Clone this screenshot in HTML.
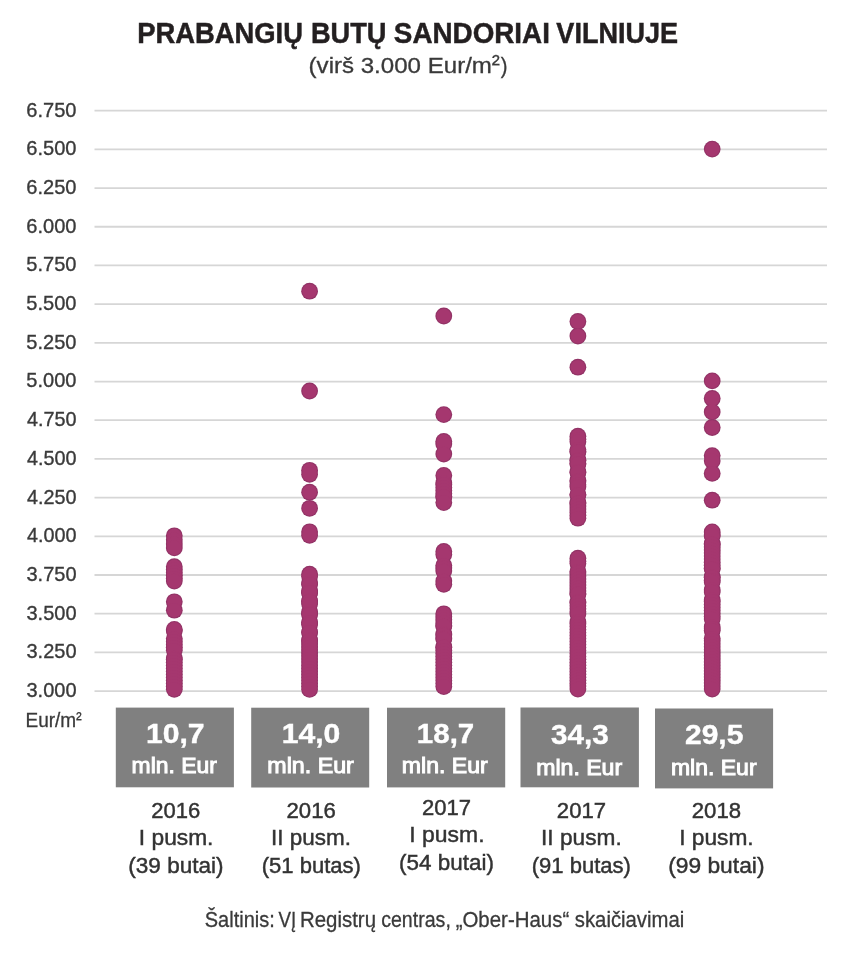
<!DOCTYPE html>
<html lang="lt">
<head>
<meta charset="utf-8">
<title>Prabangių butų sandoriai Vilniuje</title>
<style>
html,body{margin:0;padding:0;background:#fff;}
body{width:847px;height:960px;overflow:hidden;position:relative;}
svg{display:block;position:absolute;left:0;top:0;}
text{font-family:"Liberation Sans",Arial,sans-serif;}
</style>
</head>
<body>
<svg width="847" height="960" viewBox="0 0 847 960">
<rect x="0" y="0" width="847" height="960" fill="#fff"/>
<g stroke="#d6d6d6" stroke-width="1.8">
<line x1="94.5" y1="110.70" x2="827" y2="110.70"/>
<line x1="94.5" y1="149.39" x2="827" y2="149.39"/>
<line x1="94.5" y1="188.08" x2="827" y2="188.08"/>
<line x1="94.5" y1="226.77" x2="827" y2="226.77"/>
<line x1="94.5" y1="265.46" x2="827" y2="265.46"/>
<line x1="94.5" y1="304.15" x2="827" y2="304.15"/>
<line x1="94.5" y1="342.84" x2="827" y2="342.84"/>
<line x1="94.5" y1="381.53" x2="827" y2="381.53"/>
<line x1="94.5" y1="420.22" x2="827" y2="420.22"/>
<line x1="94.5" y1="458.91" x2="827" y2="458.91"/>
<line x1="94.5" y1="497.60" x2="827" y2="497.60"/>
<line x1="94.5" y1="536.29" x2="827" y2="536.29"/>
<line x1="94.5" y1="574.98" x2="827" y2="574.98"/>
<line x1="94.5" y1="613.67" x2="827" y2="613.67"/>
<line x1="94.5" y1="652.36" x2="827" y2="652.36"/>
<line x1="94.5" y1="691.05" x2="827" y2="691.05"/>
</g>
<g fill="#923366">
<circle cx="174.3" cy="535.80" r="8.40"/>
<circle cx="174.3" cy="539.80" r="8.40"/>
<circle cx="174.3" cy="543.90" r="8.40"/>
<circle cx="174.3" cy="547.90" r="8.40"/>
<circle cx="174.3" cy="566.70" r="8.40"/>
<circle cx="174.3" cy="569.58" r="8.40"/>
<circle cx="174.3" cy="572.46" r="8.40"/>
<circle cx="174.3" cy="575.34" r="8.40"/>
<circle cx="174.3" cy="578.22" r="8.40"/>
<circle cx="174.3" cy="581.10" r="8.40"/>
<circle cx="174.3" cy="601.80" r="8.40"/>
<circle cx="174.3" cy="610.20" r="8.40"/>
<circle cx="174.3" cy="629.40" r="8.40"/>
<circle cx="174.3" cy="630.80" r="8.40"/>
<circle cx="174.3" cy="638.60" r="8.40"/>
<circle cx="174.3" cy="641.38" r="8.40"/>
<circle cx="174.3" cy="644.38" r="8.40"/>
<circle cx="174.3" cy="647.37" r="8.40"/>
<circle cx="174.3" cy="650.30" r="8.40"/>
<circle cx="174.3" cy="658.10" r="8.40"/>
<circle cx="174.3" cy="659.35" r="8.40"/>
<circle cx="174.3" cy="662.35" r="8.40"/>
<circle cx="174.3" cy="665.34" r="8.40"/>
<circle cx="174.3" cy="668.34" r="8.40"/>
<circle cx="174.3" cy="671.33" r="8.40"/>
<circle cx="174.3" cy="674.33" r="8.40"/>
<circle cx="174.3" cy="677.32" r="8.40"/>
<circle cx="174.3" cy="680.32" r="8.40"/>
<circle cx="174.3" cy="683.31" r="8.40"/>
<circle cx="174.3" cy="686.31" r="8.40"/>
<circle cx="174.3" cy="689.30" r="8.40"/>
<circle cx="309.6" cy="291.20" r="8.40"/>
<circle cx="309.6" cy="391.00" r="8.40"/>
<circle cx="309.6" cy="470.30" r="8.40"/>
<circle cx="309.6" cy="474.30" r="8.40"/>
<circle cx="309.6" cy="492.20" r="8.40"/>
<circle cx="309.6" cy="508.30" r="8.40"/>
<circle cx="309.6" cy="531.80" r="8.40"/>
<circle cx="309.6" cy="535.30" r="8.40"/>
<circle cx="309.6" cy="574.20" r="8.40"/>
<circle cx="309.6" cy="576.50" r="8.40"/>
<circle cx="309.6" cy="583.10" r="8.40"/>
<circle cx="309.6" cy="584.30" r="8.40"/>
<circle cx="309.6" cy="590.90" r="8.40"/>
<circle cx="309.6" cy="592.39" r="8.40"/>
<circle cx="309.6" cy="593.10" r="8.40"/>
<circle cx="309.6" cy="600.90" r="8.40"/>
<circle cx="309.6" cy="601.48" r="8.40"/>
<circle cx="309.6" cy="604.10" r="8.40"/>
<circle cx="309.6" cy="611.90" r="8.40"/>
<circle cx="309.6" cy="613.61" r="8.40"/>
<circle cx="309.6" cy="614.40" r="8.40"/>
<circle cx="309.6" cy="622.20" r="8.40"/>
<circle cx="309.6" cy="622.71" r="8.40"/>
<circle cx="309.6" cy="624.60" r="8.40"/>
<circle cx="309.6" cy="632.10" r="8.40"/>
<circle cx="309.6" cy="632.40" r="8.40"/>
<circle cx="309.6" cy="639.90" r="8.40"/>
<circle cx="309.6" cy="640.89" r="8.40"/>
<circle cx="309.6" cy="643.93" r="8.40"/>
<circle cx="309.6" cy="646.96" r="8.40"/>
<circle cx="309.6" cy="649.99" r="8.40"/>
<circle cx="309.6" cy="653.02" r="8.40"/>
<circle cx="309.6" cy="656.05" r="8.40"/>
<circle cx="309.6" cy="659.08" r="8.40"/>
<circle cx="309.6" cy="662.12" r="8.40"/>
<circle cx="309.6" cy="665.15" r="8.40"/>
<circle cx="309.6" cy="668.18" r="8.40"/>
<circle cx="309.6" cy="671.21" r="8.40"/>
<circle cx="309.6" cy="674.24" r="8.40"/>
<circle cx="309.6" cy="677.27" r="8.40"/>
<circle cx="309.6" cy="680.31" r="8.40"/>
<circle cx="309.6" cy="683.34" r="8.40"/>
<circle cx="309.6" cy="686.37" r="8.40"/>
<circle cx="309.6" cy="689.40" r="8.40"/>
<circle cx="443.8" cy="316.00" r="8.40"/>
<circle cx="443.8" cy="414.60" r="8.40"/>
<circle cx="443.8" cy="441.50" r="8.40"/>
<circle cx="443.8" cy="444.00" r="8.40"/>
<circle cx="443.8" cy="454.00" r="8.40"/>
<circle cx="443.8" cy="475.40" r="8.40"/>
<circle cx="443.8" cy="482.90" r="8.40"/>
<circle cx="443.8" cy="484.47" r="8.40"/>
<circle cx="443.8" cy="487.49" r="8.40"/>
<circle cx="443.8" cy="490.51" r="8.40"/>
<circle cx="443.8" cy="493.53" r="8.40"/>
<circle cx="443.8" cy="496.56" r="8.40"/>
<circle cx="443.8" cy="496.90" r="8.40"/>
<circle cx="443.8" cy="502.60" r="8.40"/>
<circle cx="443.8" cy="551.50" r="8.40"/>
<circle cx="443.8" cy="554.50" r="8.40"/>
<circle cx="443.8" cy="565.50" r="8.40"/>
<circle cx="443.8" cy="568.00" r="8.40"/>
<circle cx="443.8" cy="571.00" r="8.40"/>
<circle cx="443.8" cy="581.00" r="8.40"/>
<circle cx="443.8" cy="584.30" r="8.40"/>
<circle cx="443.8" cy="613.80" r="8.40"/>
<circle cx="443.8" cy="616.83" r="8.40"/>
<circle cx="443.8" cy="619.87" r="8.40"/>
<circle cx="443.8" cy="622.90" r="8.40"/>
<circle cx="443.8" cy="625.93" r="8.40"/>
<circle cx="443.8" cy="626.10" r="8.40"/>
<circle cx="443.8" cy="633.90" r="8.40"/>
<circle cx="443.8" cy="635.03" r="8.40"/>
<circle cx="443.8" cy="638.07" r="8.40"/>
<circle cx="443.8" cy="639.10" r="8.40"/>
<circle cx="443.8" cy="646.90" r="8.40"/>
<circle cx="443.8" cy="647.17" r="8.40"/>
<circle cx="443.8" cy="650.20" r="8.40"/>
<circle cx="443.8" cy="653.23" r="8.40"/>
<circle cx="443.8" cy="656.27" r="8.40"/>
<circle cx="443.8" cy="659.30" r="8.40"/>
<circle cx="443.8" cy="662.33" r="8.40"/>
<circle cx="443.8" cy="665.37" r="8.40"/>
<circle cx="443.8" cy="668.40" r="8.40"/>
<circle cx="443.8" cy="671.43" r="8.40"/>
<circle cx="443.8" cy="674.47" r="8.40"/>
<circle cx="443.8" cy="677.50" r="8.40"/>
<circle cx="443.8" cy="680.53" r="8.40"/>
<circle cx="443.8" cy="683.57" r="8.40"/>
<circle cx="443.8" cy="686.60" r="8.40"/>
<circle cx="577.9" cy="321.50" r="8.40"/>
<circle cx="577.9" cy="336.00" r="8.40"/>
<circle cx="577.9" cy="367.20" r="8.40"/>
<circle cx="577.9" cy="436.20" r="8.40"/>
<circle cx="577.9" cy="439.24" r="8.40"/>
<circle cx="577.9" cy="441.80" r="8.40"/>
<circle cx="577.9" cy="449.60" r="8.40"/>
<circle cx="577.9" cy="451.39" r="8.40"/>
<circle cx="577.9" cy="452.10" r="8.40"/>
<circle cx="577.9" cy="459.90" r="8.40"/>
<circle cx="577.9" cy="460.50" r="8.40"/>
<circle cx="577.9" cy="463.53" r="8.40"/>
<circle cx="577.9" cy="464.10" r="8.40"/>
<circle cx="577.9" cy="471.90" r="8.40"/>
<circle cx="577.9" cy="472.40" r="8.40"/>
<circle cx="577.9" cy="480.20" r="8.40"/>
<circle cx="577.9" cy="481.76" r="8.40"/>
<circle cx="577.9" cy="484.79" r="8.40"/>
<circle cx="577.9" cy="486.80" r="8.40"/>
<circle cx="577.9" cy="494.60" r="8.40"/>
<circle cx="577.9" cy="495.10" r="8.40"/>
<circle cx="577.9" cy="502.90" r="8.40"/>
<circle cx="577.9" cy="503.01" r="8.40"/>
<circle cx="577.9" cy="506.05" r="8.40"/>
<circle cx="577.9" cy="509.09" r="8.40"/>
<circle cx="577.9" cy="512.13" r="8.40"/>
<circle cx="577.9" cy="515.16" r="8.40"/>
<circle cx="577.9" cy="518.20" r="8.40"/>
<circle cx="577.9" cy="558.20" r="8.40"/>
<circle cx="577.9" cy="561.17" r="8.40"/>
<circle cx="577.9" cy="563.60" r="8.40"/>
<circle cx="577.9" cy="571.40" r="8.40"/>
<circle cx="577.9" cy="573.07" r="8.40"/>
<circle cx="577.9" cy="576.05" r="8.40"/>
<circle cx="577.9" cy="579.02" r="8.40"/>
<circle cx="577.9" cy="582.00" r="8.40"/>
<circle cx="577.9" cy="584.97" r="8.40"/>
<circle cx="577.9" cy="587.95" r="8.40"/>
<circle cx="577.9" cy="590.92" r="8.40"/>
<circle cx="577.9" cy="593.90" r="8.40"/>
<circle cx="577.9" cy="594.10" r="8.40"/>
<circle cx="577.9" cy="601.90" r="8.40"/>
<circle cx="577.9" cy="602.82" r="8.40"/>
<circle cx="577.9" cy="605.80" r="8.40"/>
<circle cx="577.9" cy="608.77" r="8.40"/>
<circle cx="577.9" cy="611.75" r="8.40"/>
<circle cx="577.9" cy="614.10" r="8.40"/>
<circle cx="577.9" cy="621.90" r="8.40"/>
<circle cx="577.9" cy="623.65" r="8.40"/>
<circle cx="577.9" cy="626.62" r="8.40"/>
<circle cx="577.9" cy="629.60" r="8.40"/>
<circle cx="577.9" cy="632.58" r="8.40"/>
<circle cx="577.9" cy="635.55" r="8.40"/>
<circle cx="577.9" cy="638.52" r="8.40"/>
<circle cx="577.9" cy="641.50" r="8.40"/>
<circle cx="577.9" cy="644.48" r="8.40"/>
<circle cx="577.9" cy="647.45" r="8.40"/>
<circle cx="577.9" cy="650.42" r="8.40"/>
<circle cx="577.9" cy="653.40" r="8.40"/>
<circle cx="577.9" cy="656.38" r="8.40"/>
<circle cx="577.9" cy="659.35" r="8.40"/>
<circle cx="577.9" cy="662.33" r="8.40"/>
<circle cx="577.9" cy="665.30" r="8.40"/>
<circle cx="577.9" cy="668.27" r="8.40"/>
<circle cx="577.9" cy="671.25" r="8.40"/>
<circle cx="577.9" cy="674.23" r="8.40"/>
<circle cx="577.9" cy="677.20" r="8.40"/>
<circle cx="577.9" cy="680.17" r="8.40"/>
<circle cx="577.9" cy="683.15" r="8.40"/>
<circle cx="577.9" cy="686.12" r="8.40"/>
<circle cx="577.9" cy="689.10" r="8.40"/>
<circle cx="712.2" cy="149.10" r="8.40"/>
<circle cx="712.2" cy="380.90" r="8.40"/>
<circle cx="712.2" cy="398.50" r="8.40"/>
<circle cx="712.2" cy="411.90" r="8.40"/>
<circle cx="712.2" cy="427.50" r="8.40"/>
<circle cx="712.2" cy="455.60" r="8.40"/>
<circle cx="712.2" cy="460.80" r="8.40"/>
<circle cx="712.2" cy="473.40" r="8.40"/>
<circle cx="712.2" cy="500.20" r="8.40"/>
<circle cx="712.2" cy="531.90" r="8.40"/>
<circle cx="712.2" cy="534.92" r="8.40"/>
<circle cx="712.2" cy="536.10" r="8.40"/>
<circle cx="712.2" cy="543.90" r="8.40"/>
<circle cx="712.2" cy="543.99" r="8.40"/>
<circle cx="712.2" cy="547.02" r="8.40"/>
<circle cx="712.2" cy="550.04" r="8.40"/>
<circle cx="712.2" cy="553.06" r="8.40"/>
<circle cx="712.2" cy="556.08" r="8.40"/>
<circle cx="712.2" cy="559.11" r="8.40"/>
<circle cx="712.2" cy="562.13" r="8.40"/>
<circle cx="712.2" cy="565.15" r="8.40"/>
<circle cx="712.2" cy="568.18" r="8.40"/>
<circle cx="712.2" cy="569.10" r="8.40"/>
<circle cx="712.2" cy="576.90" r="8.40"/>
<circle cx="712.2" cy="577.25" r="8.40"/>
<circle cx="712.2" cy="580.27" r="8.40"/>
<circle cx="712.2" cy="582.10" r="8.40"/>
<circle cx="712.2" cy="589.90" r="8.40"/>
<circle cx="712.2" cy="592.10" r="8.40"/>
<circle cx="712.2" cy="599.90" r="8.40"/>
<circle cx="712.2" cy="601.43" r="8.40"/>
<circle cx="712.2" cy="604.45" r="8.40"/>
<circle cx="712.2" cy="607.48" r="8.40"/>
<circle cx="712.2" cy="610.50" r="8.40"/>
<circle cx="712.2" cy="613.52" r="8.40"/>
<circle cx="712.2" cy="616.55" r="8.40"/>
<circle cx="712.2" cy="619.10" r="8.40"/>
<circle cx="712.2" cy="626.90" r="8.40"/>
<circle cx="712.2" cy="628.64" r="8.40"/>
<circle cx="712.2" cy="630.60" r="8.40"/>
<circle cx="712.2" cy="638.40" r="8.40"/>
<circle cx="712.2" cy="640.73" r="8.40"/>
<circle cx="712.2" cy="643.75" r="8.40"/>
<circle cx="712.2" cy="646.78" r="8.40"/>
<circle cx="712.2" cy="649.80" r="8.40"/>
<circle cx="712.2" cy="652.82" r="8.40"/>
<circle cx="712.2" cy="655.85" r="8.40"/>
<circle cx="712.2" cy="658.87" r="8.40"/>
<circle cx="712.2" cy="661.89" r="8.40"/>
<circle cx="712.2" cy="664.92" r="8.40"/>
<circle cx="712.2" cy="667.94" r="8.40"/>
<circle cx="712.2" cy="670.96" r="8.40"/>
<circle cx="712.2" cy="673.98" r="8.40"/>
<circle cx="712.2" cy="677.01" r="8.40"/>
<circle cx="712.2" cy="680.03" r="8.40"/>
<circle cx="712.2" cy="683.05" r="8.40"/>
<circle cx="712.2" cy="686.08" r="8.40"/>
<circle cx="712.2" cy="689.10" r="8.40"/>
</g>
<g fill="#a5376f">
<circle cx="174.3" cy="535.80" r="7.30"/>
<circle cx="174.3" cy="539.80" r="7.30"/>
<circle cx="174.3" cy="543.90" r="7.30"/>
<circle cx="174.3" cy="547.90" r="7.30"/>
<circle cx="174.3" cy="566.70" r="7.30"/>
<circle cx="174.3" cy="569.58" r="7.30"/>
<circle cx="174.3" cy="572.46" r="7.30"/>
<circle cx="174.3" cy="575.34" r="7.30"/>
<circle cx="174.3" cy="578.22" r="7.30"/>
<circle cx="174.3" cy="581.10" r="7.30"/>
<circle cx="174.3" cy="601.80" r="7.30"/>
<circle cx="174.3" cy="610.20" r="7.30"/>
<circle cx="174.3" cy="629.40" r="7.30"/>
<circle cx="174.3" cy="630.80" r="7.30"/>
<circle cx="174.3" cy="638.60" r="7.30"/>
<circle cx="174.3" cy="641.38" r="7.30"/>
<circle cx="174.3" cy="644.38" r="7.30"/>
<circle cx="174.3" cy="647.37" r="7.30"/>
<circle cx="174.3" cy="650.30" r="7.30"/>
<circle cx="174.3" cy="658.10" r="7.30"/>
<circle cx="174.3" cy="659.35" r="7.30"/>
<circle cx="174.3" cy="662.35" r="7.30"/>
<circle cx="174.3" cy="665.34" r="7.30"/>
<circle cx="174.3" cy="668.34" r="7.30"/>
<circle cx="174.3" cy="671.33" r="7.30"/>
<circle cx="174.3" cy="674.33" r="7.30"/>
<circle cx="174.3" cy="677.32" r="7.30"/>
<circle cx="174.3" cy="680.32" r="7.30"/>
<circle cx="174.3" cy="683.31" r="7.30"/>
<circle cx="174.3" cy="686.31" r="7.30"/>
<circle cx="174.3" cy="689.30" r="7.30"/>
<circle cx="309.6" cy="291.20" r="7.30"/>
<circle cx="309.6" cy="391.00" r="7.30"/>
<circle cx="309.6" cy="470.30" r="7.30"/>
<circle cx="309.6" cy="474.30" r="7.30"/>
<circle cx="309.6" cy="492.20" r="7.30"/>
<circle cx="309.6" cy="508.30" r="7.30"/>
<circle cx="309.6" cy="531.80" r="7.30"/>
<circle cx="309.6" cy="535.30" r="7.30"/>
<circle cx="309.6" cy="574.20" r="7.30"/>
<circle cx="309.6" cy="576.50" r="7.30"/>
<circle cx="309.6" cy="583.10" r="7.30"/>
<circle cx="309.6" cy="584.30" r="7.30"/>
<circle cx="309.6" cy="590.90" r="7.30"/>
<circle cx="309.6" cy="592.39" r="7.30"/>
<circle cx="309.6" cy="593.10" r="7.30"/>
<circle cx="309.6" cy="600.90" r="7.30"/>
<circle cx="309.6" cy="601.48" r="7.30"/>
<circle cx="309.6" cy="604.10" r="7.30"/>
<circle cx="309.6" cy="611.90" r="7.30"/>
<circle cx="309.6" cy="613.61" r="7.30"/>
<circle cx="309.6" cy="614.40" r="7.30"/>
<circle cx="309.6" cy="622.20" r="7.30"/>
<circle cx="309.6" cy="622.71" r="7.30"/>
<circle cx="309.6" cy="624.60" r="7.30"/>
<circle cx="309.6" cy="632.10" r="7.30"/>
<circle cx="309.6" cy="632.40" r="7.30"/>
<circle cx="309.6" cy="639.90" r="7.30"/>
<circle cx="309.6" cy="640.89" r="7.30"/>
<circle cx="309.6" cy="643.93" r="7.30"/>
<circle cx="309.6" cy="646.96" r="7.30"/>
<circle cx="309.6" cy="649.99" r="7.30"/>
<circle cx="309.6" cy="653.02" r="7.30"/>
<circle cx="309.6" cy="656.05" r="7.30"/>
<circle cx="309.6" cy="659.08" r="7.30"/>
<circle cx="309.6" cy="662.12" r="7.30"/>
<circle cx="309.6" cy="665.15" r="7.30"/>
<circle cx="309.6" cy="668.18" r="7.30"/>
<circle cx="309.6" cy="671.21" r="7.30"/>
<circle cx="309.6" cy="674.24" r="7.30"/>
<circle cx="309.6" cy="677.27" r="7.30"/>
<circle cx="309.6" cy="680.31" r="7.30"/>
<circle cx="309.6" cy="683.34" r="7.30"/>
<circle cx="309.6" cy="686.37" r="7.30"/>
<circle cx="309.6" cy="689.40" r="7.30"/>
<circle cx="443.8" cy="316.00" r="7.30"/>
<circle cx="443.8" cy="414.60" r="7.30"/>
<circle cx="443.8" cy="441.50" r="7.30"/>
<circle cx="443.8" cy="444.00" r="7.30"/>
<circle cx="443.8" cy="454.00" r="7.30"/>
<circle cx="443.8" cy="475.40" r="7.30"/>
<circle cx="443.8" cy="482.90" r="7.30"/>
<circle cx="443.8" cy="484.47" r="7.30"/>
<circle cx="443.8" cy="487.49" r="7.30"/>
<circle cx="443.8" cy="490.51" r="7.30"/>
<circle cx="443.8" cy="493.53" r="7.30"/>
<circle cx="443.8" cy="496.56" r="7.30"/>
<circle cx="443.8" cy="496.90" r="7.30"/>
<circle cx="443.8" cy="502.60" r="7.30"/>
<circle cx="443.8" cy="551.50" r="7.30"/>
<circle cx="443.8" cy="554.50" r="7.30"/>
<circle cx="443.8" cy="565.50" r="7.30"/>
<circle cx="443.8" cy="568.00" r="7.30"/>
<circle cx="443.8" cy="571.00" r="7.30"/>
<circle cx="443.8" cy="581.00" r="7.30"/>
<circle cx="443.8" cy="584.30" r="7.30"/>
<circle cx="443.8" cy="613.80" r="7.30"/>
<circle cx="443.8" cy="616.83" r="7.30"/>
<circle cx="443.8" cy="619.87" r="7.30"/>
<circle cx="443.8" cy="622.90" r="7.30"/>
<circle cx="443.8" cy="625.93" r="7.30"/>
<circle cx="443.8" cy="626.10" r="7.30"/>
<circle cx="443.8" cy="633.90" r="7.30"/>
<circle cx="443.8" cy="635.03" r="7.30"/>
<circle cx="443.8" cy="638.07" r="7.30"/>
<circle cx="443.8" cy="639.10" r="7.30"/>
<circle cx="443.8" cy="646.90" r="7.30"/>
<circle cx="443.8" cy="647.17" r="7.30"/>
<circle cx="443.8" cy="650.20" r="7.30"/>
<circle cx="443.8" cy="653.23" r="7.30"/>
<circle cx="443.8" cy="656.27" r="7.30"/>
<circle cx="443.8" cy="659.30" r="7.30"/>
<circle cx="443.8" cy="662.33" r="7.30"/>
<circle cx="443.8" cy="665.37" r="7.30"/>
<circle cx="443.8" cy="668.40" r="7.30"/>
<circle cx="443.8" cy="671.43" r="7.30"/>
<circle cx="443.8" cy="674.47" r="7.30"/>
<circle cx="443.8" cy="677.50" r="7.30"/>
<circle cx="443.8" cy="680.53" r="7.30"/>
<circle cx="443.8" cy="683.57" r="7.30"/>
<circle cx="443.8" cy="686.60" r="7.30"/>
<circle cx="577.9" cy="321.50" r="7.30"/>
<circle cx="577.9" cy="336.00" r="7.30"/>
<circle cx="577.9" cy="367.20" r="7.30"/>
<circle cx="577.9" cy="436.20" r="7.30"/>
<circle cx="577.9" cy="439.24" r="7.30"/>
<circle cx="577.9" cy="441.80" r="7.30"/>
<circle cx="577.9" cy="449.60" r="7.30"/>
<circle cx="577.9" cy="451.39" r="7.30"/>
<circle cx="577.9" cy="452.10" r="7.30"/>
<circle cx="577.9" cy="459.90" r="7.30"/>
<circle cx="577.9" cy="460.50" r="7.30"/>
<circle cx="577.9" cy="463.53" r="7.30"/>
<circle cx="577.9" cy="464.10" r="7.30"/>
<circle cx="577.9" cy="471.90" r="7.30"/>
<circle cx="577.9" cy="472.40" r="7.30"/>
<circle cx="577.9" cy="480.20" r="7.30"/>
<circle cx="577.9" cy="481.76" r="7.30"/>
<circle cx="577.9" cy="484.79" r="7.30"/>
<circle cx="577.9" cy="486.80" r="7.30"/>
<circle cx="577.9" cy="494.60" r="7.30"/>
<circle cx="577.9" cy="495.10" r="7.30"/>
<circle cx="577.9" cy="502.90" r="7.30"/>
<circle cx="577.9" cy="503.01" r="7.30"/>
<circle cx="577.9" cy="506.05" r="7.30"/>
<circle cx="577.9" cy="509.09" r="7.30"/>
<circle cx="577.9" cy="512.13" r="7.30"/>
<circle cx="577.9" cy="515.16" r="7.30"/>
<circle cx="577.9" cy="518.20" r="7.30"/>
<circle cx="577.9" cy="558.20" r="7.30"/>
<circle cx="577.9" cy="561.17" r="7.30"/>
<circle cx="577.9" cy="563.60" r="7.30"/>
<circle cx="577.9" cy="571.40" r="7.30"/>
<circle cx="577.9" cy="573.07" r="7.30"/>
<circle cx="577.9" cy="576.05" r="7.30"/>
<circle cx="577.9" cy="579.02" r="7.30"/>
<circle cx="577.9" cy="582.00" r="7.30"/>
<circle cx="577.9" cy="584.97" r="7.30"/>
<circle cx="577.9" cy="587.95" r="7.30"/>
<circle cx="577.9" cy="590.92" r="7.30"/>
<circle cx="577.9" cy="593.90" r="7.30"/>
<circle cx="577.9" cy="594.10" r="7.30"/>
<circle cx="577.9" cy="601.90" r="7.30"/>
<circle cx="577.9" cy="602.82" r="7.30"/>
<circle cx="577.9" cy="605.80" r="7.30"/>
<circle cx="577.9" cy="608.77" r="7.30"/>
<circle cx="577.9" cy="611.75" r="7.30"/>
<circle cx="577.9" cy="614.10" r="7.30"/>
<circle cx="577.9" cy="621.90" r="7.30"/>
<circle cx="577.9" cy="623.65" r="7.30"/>
<circle cx="577.9" cy="626.62" r="7.30"/>
<circle cx="577.9" cy="629.60" r="7.30"/>
<circle cx="577.9" cy="632.58" r="7.30"/>
<circle cx="577.9" cy="635.55" r="7.30"/>
<circle cx="577.9" cy="638.52" r="7.30"/>
<circle cx="577.9" cy="641.50" r="7.30"/>
<circle cx="577.9" cy="644.48" r="7.30"/>
<circle cx="577.9" cy="647.45" r="7.30"/>
<circle cx="577.9" cy="650.42" r="7.30"/>
<circle cx="577.9" cy="653.40" r="7.30"/>
<circle cx="577.9" cy="656.38" r="7.30"/>
<circle cx="577.9" cy="659.35" r="7.30"/>
<circle cx="577.9" cy="662.33" r="7.30"/>
<circle cx="577.9" cy="665.30" r="7.30"/>
<circle cx="577.9" cy="668.27" r="7.30"/>
<circle cx="577.9" cy="671.25" r="7.30"/>
<circle cx="577.9" cy="674.23" r="7.30"/>
<circle cx="577.9" cy="677.20" r="7.30"/>
<circle cx="577.9" cy="680.17" r="7.30"/>
<circle cx="577.9" cy="683.15" r="7.30"/>
<circle cx="577.9" cy="686.12" r="7.30"/>
<circle cx="577.9" cy="689.10" r="7.30"/>
<circle cx="712.2" cy="149.10" r="7.30"/>
<circle cx="712.2" cy="380.90" r="7.30"/>
<circle cx="712.2" cy="398.50" r="7.30"/>
<circle cx="712.2" cy="411.90" r="7.30"/>
<circle cx="712.2" cy="427.50" r="7.30"/>
<circle cx="712.2" cy="455.60" r="7.30"/>
<circle cx="712.2" cy="460.80" r="7.30"/>
<circle cx="712.2" cy="473.40" r="7.30"/>
<circle cx="712.2" cy="500.20" r="7.30"/>
<circle cx="712.2" cy="531.90" r="7.30"/>
<circle cx="712.2" cy="534.92" r="7.30"/>
<circle cx="712.2" cy="536.10" r="7.30"/>
<circle cx="712.2" cy="543.90" r="7.30"/>
<circle cx="712.2" cy="543.99" r="7.30"/>
<circle cx="712.2" cy="547.02" r="7.30"/>
<circle cx="712.2" cy="550.04" r="7.30"/>
<circle cx="712.2" cy="553.06" r="7.30"/>
<circle cx="712.2" cy="556.08" r="7.30"/>
<circle cx="712.2" cy="559.11" r="7.30"/>
<circle cx="712.2" cy="562.13" r="7.30"/>
<circle cx="712.2" cy="565.15" r="7.30"/>
<circle cx="712.2" cy="568.18" r="7.30"/>
<circle cx="712.2" cy="569.10" r="7.30"/>
<circle cx="712.2" cy="576.90" r="7.30"/>
<circle cx="712.2" cy="577.25" r="7.30"/>
<circle cx="712.2" cy="580.27" r="7.30"/>
<circle cx="712.2" cy="582.10" r="7.30"/>
<circle cx="712.2" cy="589.90" r="7.30"/>
<circle cx="712.2" cy="592.10" r="7.30"/>
<circle cx="712.2" cy="599.90" r="7.30"/>
<circle cx="712.2" cy="601.43" r="7.30"/>
<circle cx="712.2" cy="604.45" r="7.30"/>
<circle cx="712.2" cy="607.48" r="7.30"/>
<circle cx="712.2" cy="610.50" r="7.30"/>
<circle cx="712.2" cy="613.52" r="7.30"/>
<circle cx="712.2" cy="616.55" r="7.30"/>
<circle cx="712.2" cy="619.10" r="7.30"/>
<circle cx="712.2" cy="626.90" r="7.30"/>
<circle cx="712.2" cy="628.64" r="7.30"/>
<circle cx="712.2" cy="630.60" r="7.30"/>
<circle cx="712.2" cy="638.40" r="7.30"/>
<circle cx="712.2" cy="640.73" r="7.30"/>
<circle cx="712.2" cy="643.75" r="7.30"/>
<circle cx="712.2" cy="646.78" r="7.30"/>
<circle cx="712.2" cy="649.80" r="7.30"/>
<circle cx="712.2" cy="652.82" r="7.30"/>
<circle cx="712.2" cy="655.85" r="7.30"/>
<circle cx="712.2" cy="658.87" r="7.30"/>
<circle cx="712.2" cy="661.89" r="7.30"/>
<circle cx="712.2" cy="664.92" r="7.30"/>
<circle cx="712.2" cy="667.94" r="7.30"/>
<circle cx="712.2" cy="670.96" r="7.30"/>
<circle cx="712.2" cy="673.98" r="7.30"/>
<circle cx="712.2" cy="677.01" r="7.30"/>
<circle cx="712.2" cy="680.03" r="7.30"/>
<circle cx="712.2" cy="683.05" r="7.30"/>
<circle cx="712.2" cy="686.08" r="7.30"/>
<circle cx="712.2" cy="689.10" r="7.30"/>
</g>
<rect x="115.8" y="707.6" width="118.1" height="79.7" fill="#808080"/>
<rect x="251.2" y="707.7" width="118.0" height="79.8" fill="#808080"/>
<rect x="387.0" y="707.7" width="118.2" height="79.7" fill="#808080"/>
<rect x="520.5" y="707.5" width="118.4" height="79.8" fill="#808080"/>
<rect x="655.0" y="708.5" width="118.1" height="79.9" fill="#808080"/>
<text x="137.27" y="43.00" font-size="30.1" font-weight="bold" fill="#231f20" stroke="#231f20" stroke-width="0.5" textLength="165.63" lengthAdjust="spacingAndGlyphs">PRABANGIŲ</text>
<text x="310.93" y="43.00" font-size="30.1" font-weight="bold" fill="#231f20" stroke="#231f20" stroke-width="0.5" textLength="75.60" lengthAdjust="spacingAndGlyphs">BUTŲ</text>
<text x="393.85" y="43.00" font-size="30.1" font-weight="bold" fill="#231f20" stroke="#231f20" stroke-width="0.5" textLength="156.04" lengthAdjust="spacingAndGlyphs">SANDORIAI</text>
<text x="556.35" y="43.00" font-size="30.1" font-weight="bold" fill="#231f20" stroke="#231f20" stroke-width="0.5" textLength="121.82" lengthAdjust="spacingAndGlyphs">VILNIUJE</text>
<text x="308.59" y="73.00" font-size="21.5" fill="#3a3a3a" stroke="#3a3a3a" stroke-width="0.3" textLength="183.32" lengthAdjust="spacingAndGlyphs">(virš 3.000 Eur/m</text>
<text x="491.80" y="72.30" font-size="25.8" fill="#3a3a3a" stroke="#3a3a3a" stroke-width="0.25" textLength="8.10" lengthAdjust="spacingAndGlyphs">²</text>
<text x="500.83" y="73.00" font-size="21.5" fill="#3a3a3a" stroke="#3a3a3a" stroke-width="0.3" textLength="6.78" lengthAdjust="spacingAndGlyphs">)</text>
<text x="26.31" y="116.60" font-size="20.6" fill="#3a3a3a" stroke="#3a3a3a" stroke-width="0.35" textLength="50.22" lengthAdjust="spacingAndGlyphs">6.750</text>
<text x="26.31" y="155.29" font-size="20.6" fill="#3a3a3a" stroke="#3a3a3a" stroke-width="0.35" textLength="50.22" lengthAdjust="spacingAndGlyphs">6.500</text>
<text x="26.31" y="193.98" font-size="20.6" fill="#3a3a3a" stroke="#3a3a3a" stroke-width="0.35" textLength="50.22" lengthAdjust="spacingAndGlyphs">6.250</text>
<text x="26.31" y="232.67" font-size="20.6" fill="#3a3a3a" stroke="#3a3a3a" stroke-width="0.35" textLength="50.22" lengthAdjust="spacingAndGlyphs">6.000</text>
<text x="26.32" y="271.36" font-size="20.6" fill="#3a3a3a" stroke="#3a3a3a" stroke-width="0.35" textLength="50.21" lengthAdjust="spacingAndGlyphs">5.750</text>
<text x="26.32" y="310.05" font-size="20.6" fill="#3a3a3a" stroke="#3a3a3a" stroke-width="0.35" textLength="50.21" lengthAdjust="spacingAndGlyphs">5.500</text>
<text x="26.32" y="348.74" font-size="20.6" fill="#3a3a3a" stroke="#3a3a3a" stroke-width="0.35" textLength="50.21" lengthAdjust="spacingAndGlyphs">5.250</text>
<text x="26.32" y="387.43" font-size="20.6" fill="#3a3a3a" stroke="#3a3a3a" stroke-width="0.35" textLength="50.21" lengthAdjust="spacingAndGlyphs">5.000</text>
<text x="26.98" y="426.12" font-size="20.6" fill="#3a3a3a" stroke="#3a3a3a" stroke-width="0.35" textLength="49.60" lengthAdjust="spacingAndGlyphs">4.750</text>
<text x="26.98" y="464.81" font-size="20.6" fill="#3a3a3a" stroke="#3a3a3a" stroke-width="0.35" textLength="49.60" lengthAdjust="spacingAndGlyphs">4.500</text>
<text x="26.98" y="503.50" font-size="20.6" fill="#3a3a3a" stroke="#3a3a3a" stroke-width="0.35" textLength="49.60" lengthAdjust="spacingAndGlyphs">4.250</text>
<text x="26.98" y="542.19" font-size="20.6" fill="#3a3a3a" stroke="#3a3a3a" stroke-width="0.35" textLength="49.60" lengthAdjust="spacingAndGlyphs">4.000</text>
<text x="26.50" y="580.88" font-size="20.6" fill="#3a3a3a" stroke="#3a3a3a" stroke-width="0.35" textLength="50.04" lengthAdjust="spacingAndGlyphs">3.750</text>
<text x="26.50" y="619.57" font-size="20.6" fill="#3a3a3a" stroke="#3a3a3a" stroke-width="0.35" textLength="50.04" lengthAdjust="spacingAndGlyphs">3.500</text>
<text x="26.50" y="658.26" font-size="20.6" fill="#3a3a3a" stroke="#3a3a3a" stroke-width="0.35" textLength="50.04" lengthAdjust="spacingAndGlyphs">3.250</text>
<text x="26.50" y="696.95" font-size="20.6" fill="#3a3a3a" stroke="#3a3a3a" stroke-width="0.35" textLength="50.04" lengthAdjust="spacingAndGlyphs">3.000</text>
<text x="25.47" y="727.10" font-size="20.2" fill="#3a3a3a" stroke="#3a3a3a" stroke-width="0.3" textLength="50.68" lengthAdjust="spacingAndGlyphs">Eur/m</text>
<text x="75.94" y="725.10" font-size="18.6" fill="#3a3a3a" stroke="#3a3a3a" stroke-width="0.2" textLength="5.73" lengthAdjust="spacingAndGlyphs">²</text>
<text x="145.93" y="742.50" font-size="28.0" font-weight="bold" fill="#fff" stroke="#fff" stroke-width="0.4" textLength="58.63" lengthAdjust="spacingAndGlyphs">10,7</text>
<text x="131.62" y="773.00" font-size="22.8" fill="#fff" stroke="#fff" stroke-width="1.0" textLength="85.34" lengthAdjust="spacingAndGlyphs">mln. Eur</text>
<text x="281.67" y="742.80" font-size="28.0" font-weight="bold" fill="#fff" stroke="#fff" stroke-width="0.4" textLength="58.67" lengthAdjust="spacingAndGlyphs">14,0</text>
<text x="267.30" y="773.30" font-size="22.8" fill="#fff" stroke="#fff" stroke-width="1.0" textLength="86.52" lengthAdjust="spacingAndGlyphs">mln. Eur</text>
<text x="416.88" y="742.80" font-size="28.0" font-weight="bold" fill="#fff" stroke="#fff" stroke-width="0.4" textLength="57.40" lengthAdjust="spacingAndGlyphs">18,7</text>
<text x="401.82" y="772.90" font-size="22.8" fill="#fff" stroke="#fff" stroke-width="1.0" textLength="85.90" lengthAdjust="spacingAndGlyphs">mln. Eur</text>
<text x="551.07" y="744.00" font-size="28.0" font-weight="bold" fill="#fff" stroke="#fff" stroke-width="0.4" textLength="57.63" lengthAdjust="spacingAndGlyphs">34,3</text>
<text x="536.21" y="774.50" font-size="22.8" fill="#fff" stroke="#fff" stroke-width="1.0" textLength="85.93" lengthAdjust="spacingAndGlyphs">mln. Eur</text>
<text x="685.00" y="743.80" font-size="28.0" font-weight="bold" fill="#fff" stroke="#fff" stroke-width="0.4" textLength="58.36" lengthAdjust="spacingAndGlyphs">29,5</text>
<text x="670.92" y="774.70" font-size="22.8" fill="#fff" stroke="#fff" stroke-width="1.0" textLength="85.66" lengthAdjust="spacingAndGlyphs">mln. Eur</text>
<text x="151.32" y="817.70" font-size="22.5" fill="#333" stroke="#333" stroke-width="0.45" textLength="48.98" lengthAdjust="spacingAndGlyphs">2016</text>
<text x="138.83" y="845.20" font-size="22.5" fill="#333" stroke="#333" stroke-width="0.45" textLength="74.62" lengthAdjust="spacingAndGlyphs">I pusm.</text>
<text x="128.30" y="872.50" font-size="22.5" fill="#333" stroke="#333" stroke-width="0.45" textLength="95.21" lengthAdjust="spacingAndGlyphs">(39 butai)</text>
<text x="286.52" y="817.70" font-size="22.5" fill="#333" stroke="#333" stroke-width="0.45" textLength="49.30" lengthAdjust="spacingAndGlyphs">2016</text>
<text x="271.10" y="845.20" font-size="22.5" fill="#333" stroke="#333" stroke-width="0.45" textLength="79.77" lengthAdjust="spacingAndGlyphs">II pusm.</text>
<text x="261.74" y="872.50" font-size="22.5" fill="#333" stroke="#333" stroke-width="0.45" textLength="99.19" lengthAdjust="spacingAndGlyphs">(51 butas)</text>
<text x="421.98" y="814.90" font-size="22.5" fill="#333" stroke="#333" stroke-width="0.45" textLength="49.04" lengthAdjust="spacingAndGlyphs">2017</text>
<text x="409.36" y="842.40" font-size="22.5" fill="#333" stroke="#333" stroke-width="0.45" textLength="75.15" lengthAdjust="spacingAndGlyphs">I pusm.</text>
<text x="399.12" y="869.70" font-size="22.5" fill="#333" stroke="#333" stroke-width="0.45" textLength="94.82" lengthAdjust="spacingAndGlyphs">(54 butai)</text>
<text x="556.85" y="817.70" font-size="22.5" fill="#333" stroke="#333" stroke-width="0.45" textLength="49.19" lengthAdjust="spacingAndGlyphs">2017</text>
<text x="541.09" y="845.20" font-size="22.5" fill="#333" stroke="#333" stroke-width="0.45" textLength="80.61" lengthAdjust="spacingAndGlyphs">II pusm.</text>
<text x="531.74" y="872.50" font-size="22.5" fill="#333" stroke="#333" stroke-width="0.45" textLength="99.19" lengthAdjust="spacingAndGlyphs">(91 butas)</text>
<text x="691.73" y="817.70" font-size="22.5" fill="#333" stroke="#333" stroke-width="0.45" textLength="49.34" lengthAdjust="spacingAndGlyphs">2018</text>
<text x="679.21" y="845.20" font-size="22.5" fill="#333" stroke="#333" stroke-width="0.45" textLength="74.49" lengthAdjust="spacingAndGlyphs">I pusm.</text>
<text x="668.15" y="872.50" font-size="22.5" fill="#333" stroke="#333" stroke-width="0.45" textLength="96.35" lengthAdjust="spacingAndGlyphs">(99 butai)</text>
<text x="204.78" y="926.60" font-size="21.8" fill="#3a3a3a" stroke="#3a3a3a" stroke-width="0.3" textLength="70.01" lengthAdjust="spacingAndGlyphs">Šaltinis:</text>
<text x="278.46" y="926.60" font-size="21.8" fill="#3a3a3a" stroke="#3a3a3a" stroke-width="0.3" textLength="17.71" lengthAdjust="spacingAndGlyphs">VĮ</text>
<text x="300.01" y="926.60" font-size="21.8" fill="#3a3a3a" stroke="#3a3a3a" stroke-width="0.3" textLength="76.01" lengthAdjust="spacingAndGlyphs">Registrų</text>
<text x="381.18" y="926.60" font-size="21.8" fill="#3a3a3a" stroke="#3a3a3a" stroke-width="0.3" textLength="69.70" lengthAdjust="spacingAndGlyphs">centras,</text>
<text x="455.68" y="926.60" font-size="21.8" fill="#3a3a3a" stroke="#3a3a3a" stroke-width="0.3" textLength="113.56" lengthAdjust="spacingAndGlyphs">„Ober-Haus“</text>
<text x="574.77" y="926.60" font-size="21.8" fill="#3a3a3a" stroke="#3a3a3a" stroke-width="0.3" textLength="109.51" lengthAdjust="spacingAndGlyphs">skaičiavimai</text>
</svg>
</body>
</html>
